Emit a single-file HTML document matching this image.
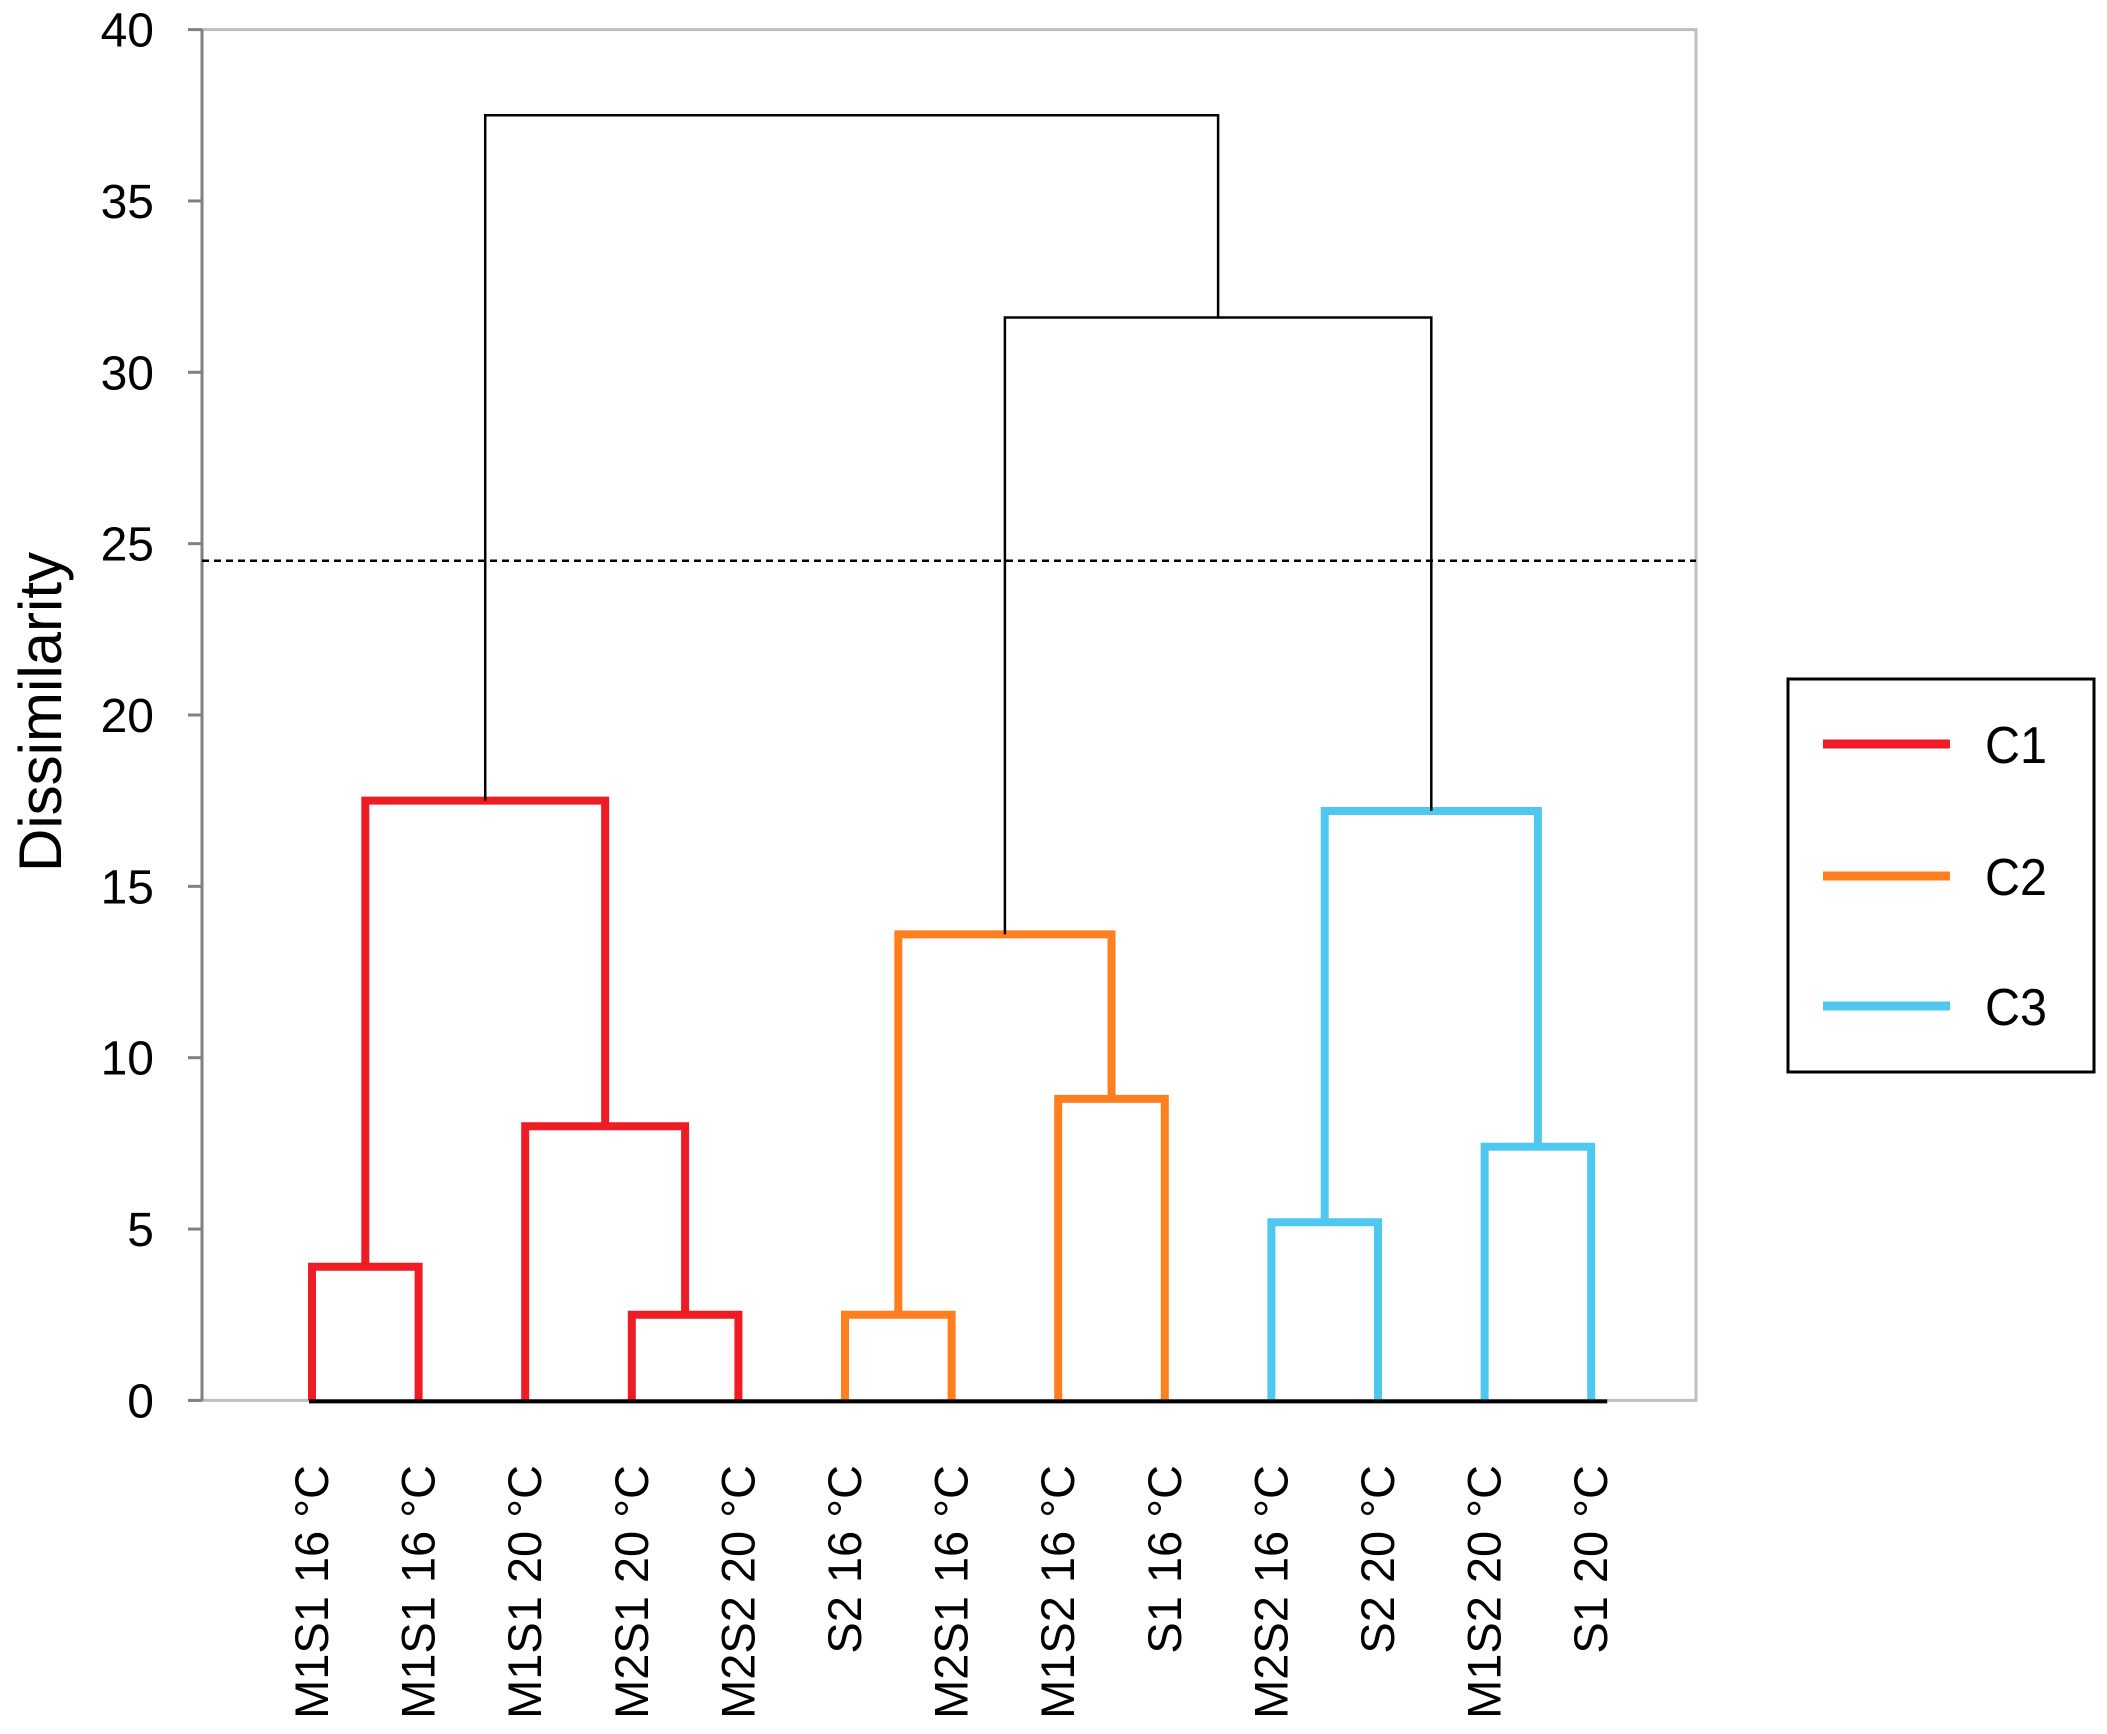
<!DOCTYPE html>
<html><head><meta charset="utf-8"><style>
html,body{margin:0;padding:0;background:#fff;}
svg{display:block;font-family:"Liberation Sans",sans-serif;}
</style></head><body>
<svg id="chart" width="2107" height="1734" viewBox="0 0 2107 1734" xmlns="http://www.w3.org/2000/svg">
<g id="frame"></g>
<g id="marks"></g>
<g id="labels"></g>
<g>
<rect x="1788" y="679" width="306" height="393" fill="#fff" stroke="#000" stroke-width="3"/>
<line x1="1823" y1="744" x2="1950" y2="744" stroke="#ee1c24" stroke-width="9"/>
<text x="1985" y="763" font-size="52" textLength="62" lengthAdjust="spacingAndGlyphs">C1</text>
<line x1="1823" y1="876" x2="1950" y2="876" stroke="#ff7f1e" stroke-width="9"/>
<text x="1985" y="895" font-size="52" textLength="62" lengthAdjust="spacingAndGlyphs">C2</text>
<line x1="1823" y1="1006" x2="1950" y2="1006" stroke="#4fc8f0" stroke-width="9"/>
<text x="1985" y="1025" font-size="52" textLength="62" lengthAdjust="spacingAndGlyphs">C3</text>
</g>
<text transform="translate(61,712) rotate(-90)" text-anchor="middle" font-size="60">Dissimilarity</text>
</svg>
<script>
const leaves = ["M1S1 16 °C","M1S1 16 °C","M1S1 20 °C","M2S1 20 °C","M2S2 20 °C","S2 16 °C","M2S1 16 °C","M1S2 16 °C","S1 16 °C","M2S2 16 °C","S2 20 °C","M1S2 20 °C","S1 20 °C"];
const yTicks = [0,5,10,15,20,25,30,35,40];
const mergeHeight= [3.9, 2.5, 8.0, 2.5, 8.8, 5.2, 7.4, 17.5, 13.6, 17.2, 31.6, 37.5];
const mergeColor = ["c1","c1","c1","c2","c2","c3","c3","c1","c2","c3","k","k"];
const cutHeight = 24.5;
</script>
<script>
const L = [0,3,2,5,7,9,11,13,16,18,21,20];
const R = [1,4,14,6,8,10,12,15,17,19,22,23];
const colors = {c1:"#ee1c24",c2:"#ff7f1e",c3:"#4fc8f0",k:"#000"};
const NS="http://www.w3.org/2000/svg";
const x0=312, dx=106.6, yTop=29.6, yBot=1400.4, yMax=40;
const X=i=>x0+dx*i;
const Y=v=>yBot-(yBot-yTop)*v/yMax;
function mk(tag,attrs,parent){const e=document.createElementNS(NS,tag);for(const k in attrs)e.setAttribute(k,attrs[k]);parent.appendChild(e);return e;}
const frame=document.getElementById('frame'),marks=document.getElementById('marks'),labels=document.getElementById('labels');
const pb=mk('rect',{x:202,y:Y(40),width:1494,height:Y(0)-Y(40),fill:'none',stroke:'#bfbfbf','stroke-width':3},frame);


const ya=mk('line',{x1:202,y1:Y(40),x2:202,y2:Y(0),stroke:'#808080','stroke-width':3},frame);


yTicks.forEach(t=>{
  const tk=mk('line',{x1:188,y1:Y(t),x2:202,y2:Y(t),stroke:'#808080','stroke-width':3},frame);
  
  
  const tl=mk('text',{x:154,y:Y(t)+17,'text-anchor':'end','font-size':48},frame);
  tl.textContent=t;
  
  
});
const cut=mk('line',{x1:202,y1:Y(cutHeight),x2:1696,y2:Y(cutHeight),stroke:'#000','stroke-width':2.5,'stroke-dasharray':'7,5'},frame);


const pos={},hgt={};
leaves.forEach((n,i)=>{pos[i]=X(i);hgt[i]=0;});
mergeHeight.forEach((h,m)=>{
  const a=L[m],b=R[m],id=13+m;
  pos[id]=(pos[a]+pos[b])/2;hgt[id]=h;
  const c=colors[mergeColor[m]],w=mergeColor[m]==='k'?2.5:8;
  const p=mk('path',{d:`M${pos[a]},${Y(hgt[a])} V${Y(h)} H${pos[b]} V${Y(hgt[b])}`,fill:'none',stroke:c,'stroke-width':w},marks);
  
  
});
const base=mk('line',{x1:X(0)-3,y1:Y(0)+1,x2:X(leaves.length-1)+16,y2:Y(0)+1,stroke:'#000','stroke-width':4},marks);


leaves.forEach((n,i)=>{
  const t=mk('text',{transform:`translate(${X(i)+16},1465) rotate(-90)`,'text-anchor':'end','font-size':47},labels);
  t.textContent=n;
  
  
});
</script>
</body></html>
